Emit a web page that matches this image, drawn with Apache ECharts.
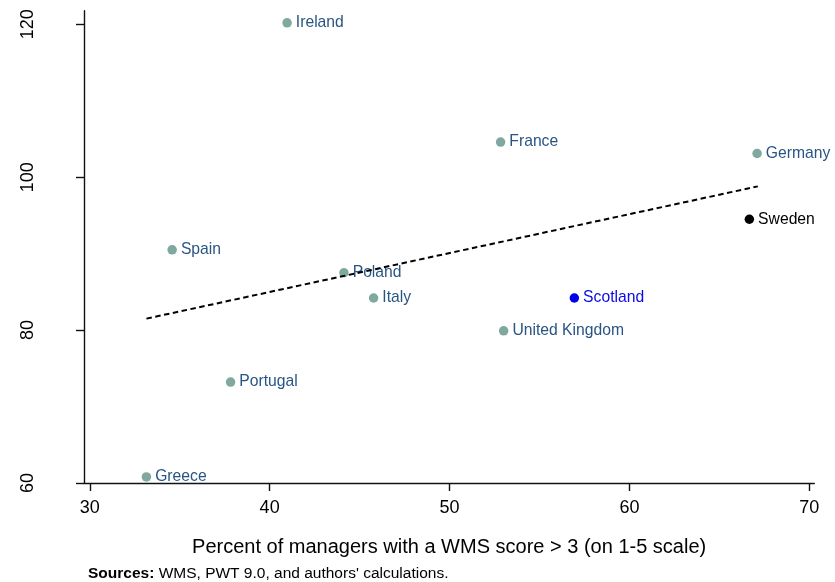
<!DOCTYPE html>
<html>
<head>
<meta charset="utf-8">
<script src="https://cdn.jsdelivr.net/npm/echarts@6/dist/echarts.min.js"></script>
<style>
html,body{margin:0;padding:0;background:#fff;}
#chart{width:835px;height:582px;}
</style>
</head>
<body>
<div id="chart"></div>
<script>
// ---- data ----
var countries = ['Ireland','France','Germany','Sweden','Spain','Poland','Italy','Scotland','United Kingdom','Portugal','Greece'];
var managersPct = [40.97, 52.84, 67.10, 66.67, 34.58, 44.13, 45.78, 56.94, 53.01, 37.83, 33.15];
var productivity = [120.2, 104.6, 103.1, 94.5, 90.5, 87.5, 84.2, 84.2, 79.9, 73.2, 60.8];
var fitX = [33.15, 67.14];
var fitY = [81.5, 98.8];
var xTicks = [30, 40, 50, 60, 70];
var yTicks = [60, 80, 100, 120];

// ---- styles ----
var FONT = "'Liberation Sans', Arial, Helvetica, sans-serif";
var defaultMarker = '#7fa89f', defaultText = '#285583';
var highlight = {
  'Scotland': {marker: '#0000e6', text: '#0a0ae6'},
  'Sweden': {marker: '#000000', text: '#000000'}
};

var pts = countries.map(function (c, i) {
  var h = highlight[c];
  return {
    name: c,
    value: [managersPct[i], productivity[i]],
    itemStyle: {color: h ? h.marker : defaultMarker, opacity: 1},
    label: {color: h ? h.text : defaultText}
  };
});
var fitData = fitX.map(function (x, i) { return [x, fitY[i]]; });

var chart = echarts.init(document.getElementById('chart'), null, {renderer: 'canvas'});
chart.setOption({
  animation: false,
  backgroundColor: '#ffffff',
  textStyle: {fontFamily: FONT},
  title: {
    text: "{b|Sources:} WMS, PWT 9.0, and authors' calculations.",
    left: 88, top: 565.5, padding: 0,
    textStyle: {
      fontFamily: FONT, fontSize: 15.5, fontWeight: 'normal', color: '#000',
      rich: {b: {fontFamily: FONT, fontSize: 15.5, fontWeight: 'bold', color: '#000'}}
    }
  },
  grid: {left: 84, right: 20.7, top: 10.7, bottom: 99, containLabel: false},
  xAxis: {
    type: 'value', min: 29.68, max: 70.28,
    name: 'Percent of managers with a WMS score > 3 (on 1-5 scale)',
    nameLocation: 'middle', nameGap: 54.5,
    nameTextStyle: {fontFamily: FONT, fontSize: 20, color: '#000'},
    axisLine: {show: true, onZero: false, lineStyle: {color: '#111', width: 1.4}},
    axisTick: {show: true, length: 8, customValues: xTicks, lineStyle: {color: '#111', width: 1.4}},
    axisLabel: {customValues: xTicks, fontSize: 18, color: '#000', margin: 16.5, fontFamily: FONT},
    splitLine: {show: false}
  },
  yAxis: {
    type: 'value', min: 60, max: 121.78,
    axisLine: {show: true, onZero: false, lineStyle: {color: '#111', width: 1.4}},
    axisTick: {show: true, length: 8, customValues: yTicks, lineStyle: {color: '#111', width: 1.4}},
    axisLabel: {customValues: yTicks, fontSize: 18, color: '#000', margin: 47, rotate: 90, fontFamily: FONT},
    splitLine: {show: false}
  },
  series: [
    {
      type: 'scatter', data: pts, symbolSize: 9.5, z: 2,
      label: {show: true, position: 'right', distance: 4, formatter: '{b}', fontSize: 15.7, fontFamily: FONT}
    },
    {
      type: 'line', data: fitData, symbol: 'none', silent: true, z: 3,
      lineStyle: {color: '#000', width: 2, type: [5.5, 3.5]}
    }
  ]
});
</script>
</body>
</html>
